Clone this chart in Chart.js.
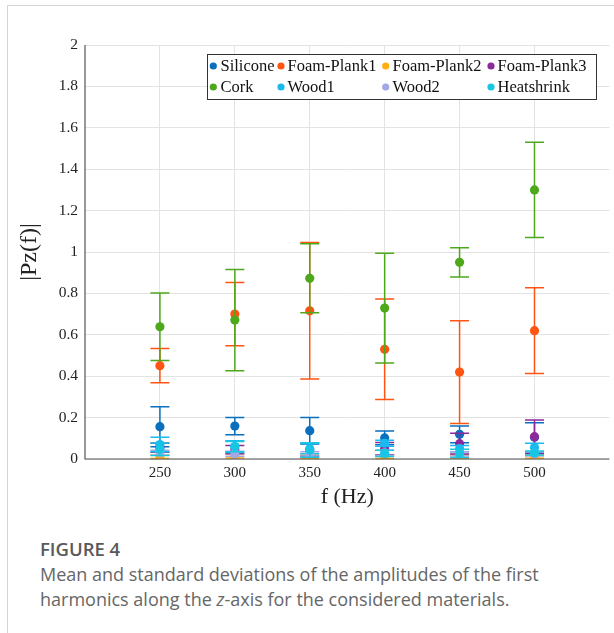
<!DOCTYPE html>
<html>
<head>
<meta charset="utf-8">
<script src="https://cdn.jsdelivr.net/npm/chart.js@4/dist/chart.umd.min.js"></script>
<style>
  html, body { margin: 0; padding: 0; background: #fff; }
  body { width: 614px; height: 633px; position: relative; overflow: hidden; }
  #card { position: absolute; left: 7px; top: 5px; width: 620px; height: 640px;
          border-top: 1px solid #d4d4d4; border-left: 1px solid #d4d4d4; }
  #wrap { position: absolute; left: 0; top: 0; width: 614px; height: 520px; }
  #cap { position: absolute; left: 40px; top: 536px; width: 520px;
         font-family: "Open Sans", sans-serif; color: #666; }
  #cap .h { font-size: 18.5px; font-weight: 600; color: #595959; line-height: 26px; }
  #cap .t { font-size: 18px; line-height: 25px; margin-top: 0px; }
</style>
</head>
<body>
<div id="card"></div>
<div id="wrap"><canvas id="c" width="614" height="520"></canvas></div>
<div id="cap">
  <div class="h">FIGURE 4</div>
  <div class="t">Mean and standard deviations of the amplitudes of the first harmonics along the <i>z</i>-axis for the considered materials.</div>
</div>
<script>
// ---- data ----
const freqs = [250, 300, 350, 400, 450, 500];
const xTicks = [250, 300, 350, 400, 450, 500];
const yTicks = [0, 0.2, 0.4, 0.6, 0.8, 1, 1.2, 1.4, 1.6, 1.8, 2];
const materials = ["Silicone", "Foam-Plank1", "Foam-Plank2", "Foam-Plank3", "Cork", "Wood1", "Wood2", "Heatshrink"];

const siliconeMean   = [0.156, 0.159, 0.137, 0.102, 0.119, 0.105];
const siliconeStd    = [0.097, 0.042, 0.064, 0.033, 0.040, 0.070];
const foam1Mean      = [0.451, 0.700, 0.716, 0.530, 0.420, 0.620];
const foam1Std       = [0.083, 0.153, 0.330, 0.243, 0.248, 0.207];
const foam2Mean      = [0.010, 0.015, 0.010, 0.010, 0.012, 0.012];
const foam2Std       = [0.008, 0.010, 0.008, 0.008, 0.008, 0.008];
const foam3Mean      = [0.055, 0.045, 0.045, 0.050, 0.074, 0.108];
const foam3Std       = [0.022, 0.020, 0.032, 0.030, 0.050, 0.080];
const corkMean       = [0.639, 0.671, 0.873, 0.729, 0.950, 1.300];
const corkStd        = [0.163, 0.245, 0.167, 0.265, 0.071, 0.230];
const wood1Mean      = [0.070, 0.060, 0.050, 0.076, 0.050, 0.055];
const wood1Std       = [0.035, 0.028, 0.025, 0.015, 0.015, 0.021];
const wood2Mean      = [0.030, 0.025, 0.025, 0.030, 0.025, 0.025];
const wood2Std       = [0.012, 0.012, 0.010, 0.012, 0.010, 0.010];
const heatMean       = [0.047, 0.060, 0.044, 0.027, 0.027, 0.029];
const heatStd        = [0.030, 0.025, 0.035, 0.015, 0.020, 0.010];

const means = [siliconeMean, foam1Mean, foam2Mean, foam3Mean, corkMean, wood1Mean, wood2Mean, heatMean];
const stds  = [siliconeStd, foam1Std, foam2Std, foam3Std, corkStd, wood1Std, wood2Std, heatStd];
const colors = ["#0a6fbd", "#ff5412", "#ffad10", "#8b2a99", "#4fa81c", "#1ab9f0", "#a0a9e6", "#16c6e2"];

const SERIF = "'Liberation Serif', 'DejaVu Serif', serif";

const datasets = materials.map((name, k) => ({
  label: name,
  data: freqs.map((f, i) => ({ x: f, y: means[k][i] })),
  errs: stds[k],
  backgroundColor: colors[k],
  borderColor: colors[k],
  pointRadius: 4.6,
  pointHoverRadius: 4.6,
  pointBorderWidth: 0,
  order: materials.length - k
}));

const errorBars = {
  id: 'errorBars',
  beforeDatasetDraw(chart, args) {
    const ds = chart.data.datasets[args.index];
    const xs = chart.scales.x, ys = chart.scales.y;
    const ctx = chart.ctx;
    ctx.save();
    ctx.strokeStyle = ds.borderColor;
    ctx.lineWidth = 1.5;
    ds.data.forEach((p, i) => {
      const x = xs.getPixelForValue(p.x);
      const yt = ys.getPixelForValue(p.y + ds.errs[i]);
      const yb = ys.getPixelForValue(Math.max(0, p.y - ds.errs[i]));
      ctx.beginPath();
      ctx.moveTo(x, yt); ctx.lineTo(x, yb);
      ctx.moveTo(x - 9.5, yt); ctx.lineTo(x + 9.5, yt);
      ctx.moveTo(x - 9.5, yb); ctx.lineTo(x + 9.5, yb);
      ctx.stroke();
    });
    ctx.restore();
  }
};

const boxLegend = {
  id: 'boxLegend',
  afterDraw(chart) {
    const ctx = chart.ctx, a = chart.chartArea;
    const L = a.left + 122, T = a.top + 9, W = 389, H = 45;
    ctx.save();
    ctx.fillStyle = '#fff';
    ctx.fillRect(L, T, W, H);
    ctx.strokeStyle = '#333';
    ctx.lineWidth = 1;
    ctx.strokeRect(L + 0.5, T + 0.5, W, H);
    const colM = [6.3, 74, 178.7, 284];
    const colT = [13.5, 80.5, 185.5, 290.5];
    const rowY = [12, 33];
    ctx.font = "16.5px " + SERIF;
    ctx.textBaseline = 'middle';
    chart.data.datasets.forEach((ds, k) => {
      const r = Math.floor(k / 4), c = k % 4;
      ctx.fillStyle = ds.backgroundColor;
      ctx.beginPath();
      ctx.arc(L + colM[c], T + rowY[r], 3.6, 0, Math.PI * 2);
      ctx.fill();
      ctx.fillStyle = '#111';
      ctx.fillText(ds.label, L + colT[c], T + rowY[r] + 1);
    });
    ctx.restore();
  }
};

const axisLines = {
  id: 'axisLines',
  afterDatasetsDraw(chart) {
    const ctx = chart.ctx, a = chart.chartArea;
    ctx.save();
    ctx.strokeStyle = '#555';
    ctx.lineWidth = 1.2;
    ctx.beginPath();
    ctx.moveTo(a.left, a.top); ctx.lineTo(a.left, a.bottom); ctx.lineTo(a.right, a.bottom);
    ctx.stroke();
    ctx.restore();
  }
};

new Chart(document.getElementById('c'), {
  type: 'scatter',
  data: { datasets },
  plugins: [errorBars, axisLines, boxLegend],
  options: {
    responsive: false,
    animation: false,
    events: [],
    layout: { padding: { top: 45, right: 4, left: 0, bottom: 0 } },
    plugins: { legend: { display: false }, tooltip: { enabled: false } },
    scales: {
      x: {
        type: 'linear', min: 200, max: 550,
        afterBuildTicks: s => { s.ticks = xTicks.map(v => ({ value: v })); },
        afterFit: s => { s.height = 61; },
        grid: { color: '#e3e3e3', lineWidth: 1, drawTicks: false },
        border: { display: false },
        ticks: { color: '#222', font: { family: SERIF, size: 15 }, padding: 5 },
        title: { display: true, text: 'f (Hz)', color: '#222', font: { family: SERIF, size: 22 }, padding: { top: 0, bottom: 10 } }
      },
      y: {
        type: 'linear', min: 0, max: 2,
        afterBuildTicks: s => { s.ticks = yTicks.map(v => ({ value: v })); },
        afterFit: s => { s.width = 85; },
        grid: { color: '#e3e3e3', lineWidth: 1, drawTicks: false },
        border: { display: false },
        ticks: { color: '#222', font: { family: SERIF, size: 15.5 }, padding: 7,
                 callback: v => String(Math.round(v * 10) / 10) },
        title: { display: true, text: '|Pz(f)|', color: '#222', font: { family: SERIF, size: 24 }, padding: { top: 15, bottom: 0 } }
      }
    }
  }
});
</script>
</body>
</html>
